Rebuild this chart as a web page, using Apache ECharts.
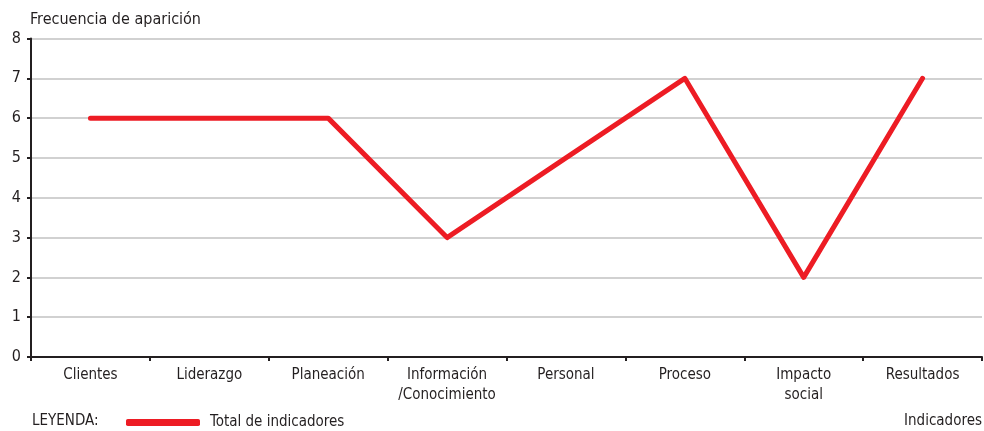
<!DOCTYPE html>
<html>
<head>
<meta charset="utf-8">
<script src="https://cdn.jsdelivr.net/npm/echarts@6/dist/echarts.min.js"></script>
<style>html,body{margin:0;padding:0;background:#fff}#c{width:984px;height:431px}</style>
</head>
<body>
<div id="c"></div>
<script>
const categories = ['Clientes', 'Liderazgo', 'Planeación', 'Información\n/Conocimiento', 'Personal', 'Proceso', 'Impacto\nsocial', 'Resultados'];
const totalIndicadores = [6, 6, 6, 3, 5, 7, 2, 7];
const yTicks = [0, 1, 2, 3, 4, 5, 6, 7, 8];
const seriesName = 'Total de indicadores';

const FONT = '"Liberation Sans Narrow", "DejaVu Sans Condensed", "Open Sans", sans-serif';
const chart = echarts.init(document.getElementById('c'), null, {renderer: 'canvas'});
chart.setOption({
  animation: false,
  backgroundColor: '#ffffff',
  textStyle: {fontFamily: FONT, color: '#231f20'},
  grid: {left: 31, right: 2, top: 38.5, bottom: 74, containLabel: false},
  xAxis: {
    type: 'category',
    data: categories,
    boundaryGap: true,
    axisLine: {lineStyle: {color: '#231f20', width: 2}},
    axisTick: {show: true, length: 4, lineStyle: {color: '#231f20', width: 2}},
    axisLabel: {fontFamily: FONT, fontSize: 15, color: '#231f20', margin: 8, lineHeight: 20, interval: 0}
  },
  yAxis: {
    type: 'value',
    min: yTicks[0],
    max: yTicks[yTicks.length - 1],
    interval: 1,
    axisLine: {show: true, lineStyle: {color: '#231f20', width: 2}},
    axisTick: {show: true, length: 4, lineStyle: {color: '#231f20', width: 2}},
    axisLabel: {fontFamily: FONT, fontSize: 16, color: '#231f20', margin: 10},
    splitLine: {show: true, lineStyle: {color: '#d1d1d1', width: 2}}
  },
  legend: {
    left: 121,
    top: 410,
    data: [seriesName],
    icon: 'roundRect',
    itemWidth: 74,
    itemHeight: 7,
    textStyle: {fontFamily: FONT, fontSize: 15, color: '#231f20', padding: [0, 0, 0, 5]}
  },
  graphic: [
    {type: 'text', left: 30, top: 12, style: {text: 'Frecuencia de aparición', font: '16px ' + FONT, fill: '#231f20'}},
    {type: 'text', left: 32, top: 414, style: {text: 'LEYENDA:', font: '15px ' + FONT, fill: '#231f20'}},
    {type: 'text', right: 2, top: 414, style: {text: 'Indicadores', font: '15px ' + FONT, fill: '#231f20'}}
  ],
  series: [{
    name: seriesName,
    type: 'line',
    data: totalIndicadores,
    symbol: 'none',
    itemStyle: {color: '#ed1c24'},
    lineStyle: {color: '#ed1c24', width: 5, cap: 'round', join: 'round'}
  }]
});
</script>
</body>
</html>
